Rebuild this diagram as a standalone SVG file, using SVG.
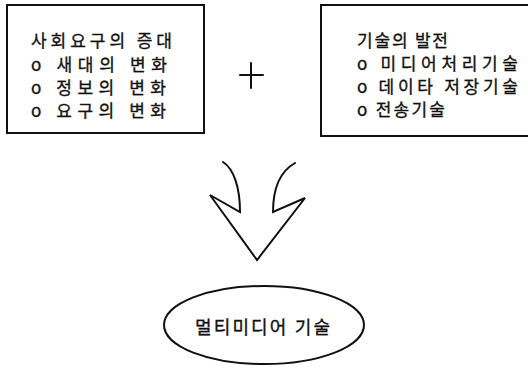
<svg xmlns="http://www.w3.org/2000/svg" width="528" height="375" viewBox="0 0 528 375">
<style>
.box{fill:#fff;stroke:#111;stroke-width:2}
.t{font-family:"Noto Sans CJK KR","Noto Sans",sans-serif;font-size:17px;fill:#111;stroke:#111;stroke-width:0.35}
.ln{fill:none;stroke:#111;stroke-width:2;stroke-linejoin:miter;stroke-linecap:round}
</style>
<rect width="528" height="375" fill="#fff"/>
<g id="social">
<rect class="box" x="7" y="5" width="197" height="128"/>
<text class="t" x="31" y="47" textLength="141" lengthAdjust="spacing">사회요구의 증대</text>
<text class="t" x="31" y="71" textLength="136" lengthAdjust="spacing">o 새대의 변화</text>
<text class="t" x="31" y="94" textLength="135" lengthAdjust="spacing">o 정보의 변화</text>
<text class="t" x="31" y="117" textLength="135" lengthAdjust="spacing">o 요구의 변화</text>
</g>
<g id="plus">
<path class="ln" d="M240,75 H263 M251,63 V88" stroke-width="1.5"/>
</g>
<g id="tech">
<rect class="box" x="321" y="5" width="212" height="131"/>
<text class="t" x="357" y="46.5" textLength="91" lengthAdjust="spacing">기술의 발전</text>
<text class="t" x="357" y="70" textLength="161" lengthAdjust="spacing">o 미디어처리기술</text>
<text class="t" x="357" y="93" textLength="161" lengthAdjust="spacing">o 데이타 저장기술</text>
<text class="t" x="357" y="116" textLength="88" lengthAdjust="spacing">o 전송기술</text>
</g>
<g id="connectors">
<path class="ln" d="M223,162 C234,169 240,188 240,212 L210,195 L257,260 L305,198 L273,212 C273,190 279,172 295,163"/>
</g>
<g id="multimedia">
<ellipse class="box" cx="264" cy="325" rx="100" ry="39"/>
<text class="t" x="195" y="334" textLength="135" lengthAdjust="spacing" style="font-size:18px">멀티미디어 기술</text>
</g>
</svg>
